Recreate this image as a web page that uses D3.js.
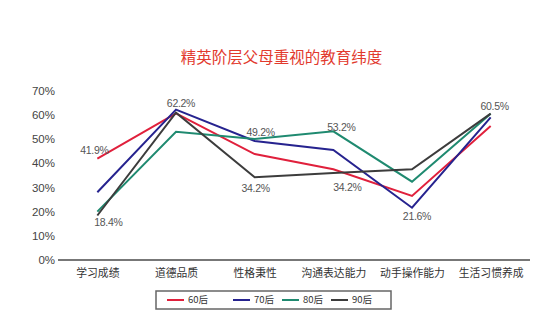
<!DOCTYPE html>
<html>
<head>
<meta charset="utf-8">
<script src="https://cdn.jsdelivr.net/npm/d3@7"></script>
<style>
  html, body { margin: 0; padding: 0; background: #fff; }
  svg { display: block; }
</style>
</head>
<body>
<svg id="chart" width="556" height="324"></svg>
<script>
// Dimensions of education valued by elite parents, by generation
const categories = ["学习成绩", "道德品质", "性格秉性", "沟通表达能力", "动手操作能力", "生活习惯养成"];
const seriesNames = ["60后", "70后", "80后", "90后"];
const values60 = [41.9, 60.6, 43.8, 37.5, 26.5, 55.4];
const values70 = [28.0, 62.2, 49.2, 45.5, 21.6, 59.0];
const values80 = [20.0, 53.0, 50.0, 53.2, 32.4, 60.5];
const values90 = [18.4, 60.9, 34.2, 36.0, 37.5, 60.5];
const yTicks = [0, 10, 20, 30, 40, 50, 60, 70];
const colors = ["#e0203c", "#26238f", "#1f8a70", "#3c3c3c"];

// Value labels: series index, category index, text
const labelSeries = [0, 1, 1, 3, 3, 2, 3, 1, 2];
const labelCats   = [0, 1, 2, 2, 0, 3, 3, 4, 5];
const labelTexts  = ["41.9%", "62.2%", "49.2%", "34.2%", "18.4%", "53.2%", "34.2%", "21.6%", "60.5%"];
const labelDx     = [-3, 5, 6, 1, 11, 8, 14, 5, 4];
const labelDy     = [-8, -6, -9, 11, 7, -4, 14, 9, -7];

const allSeries = [values60, values70, values80, values90];

const svg = d3.select("#chart");
const plotLeft = 58, plotRight = 530, plotTop = 90.7, plotBottom = 260;

const x = d3.scalePoint().domain(categories).range([plotLeft, plotRight]).padding(0.5);
const y = d3.scaleLinear().domain([0, 70]).range([plotBottom, plotTop]);

// Title
svg.append("text")
  .attr("x", 281.5).attr("y", 63)
  .attr("text-anchor", "middle")
  .attr("font-family", "'Noto Sans CJK SC', sans-serif")
  .attr("font-size", 15.5)
  .attr("fill", "#e23a2e")
  .text("精英阶层父母重视的教育纬度");

// Y axis labels
const yAxis = d3.axisLeft(y).tickValues(yTicks).tickFormat(d => d + "%").tickSize(0).tickPadding(3);
const yg = svg.append("g").attr("transform", `translate(${plotLeft},0)`).call(yAxis);
yg.select(".domain").remove();
yg.selectAll("text")
  .attr("font-family", "'Liberation Sans', Arial, sans-serif")
  .attr("font-size", 11.5)
  .attr("fill", "#444");

// X axis
const xAxis = d3.axisBottom(x).tickSize(0).tickPadding(9);
const xg = svg.append("g").attr("transform", `translate(0,${plotBottom})`).call(xAxis);
xg.select(".domain").attr("stroke", "#777").attr("stroke-width", 2).attr("d", `M${plotLeft},0H${plotRight}`);
xg.selectAll("text")
  .attr("font-family", "'Noto Sans CJK SC', sans-serif")
  .attr("font-size", 10.8)
  .attr("fill", "#333");

// Lines
const line = d3.line().x((d, i) => x(categories[i])).y(d => y(d));
allSeries.forEach((vals, s) => {
  svg.append("path")
    .datum(vals)
    .attr("fill", "none")
    .attr("stroke", colors[s])
    .attr("stroke-width", 2)
    .attr("stroke-linejoin", "miter")
    .attr("d", line);
});

// Value labels
labelTexts.forEach((t, i) => {
  svg.append("text")
    .attr("x", x(categories[labelCats[i]]) + labelDx[i])
    .attr("y", y(allSeries[labelSeries[i]][labelCats[i]]) + labelDy[i])
    .attr("dy", "0.35em")
    .attr("text-anchor", "middle")
    .attr("font-family", "'Liberation Sans', Arial, sans-serif")
    .attr("font-size", 10.5)
    .attr("letter-spacing", -0.3)
    .attr("fill", "#555")
    .text(t);
});

// Legend
const legend = svg.append("g");
legend.append("rect")
  .attr("x", 156).attr("y", 291)
  .attr("width", 235).attr("height", 18)
  .attr("fill", "#fff").attr("stroke", "#666").attr("stroke-width", 1.5);
const legendX = [167, 233, 282, 331];
seriesNames.forEach((n, i) => {
  legend.append("line")
    .attr("x1", legendX[i]).attr("x2", legendX[i] + 17)
    .attr("y1", 300).attr("y2", 300)
    .attr("stroke", colors[i]).attr("stroke-width", 2);
  legend.append("text")
    .attr("x", legendX[i] + 21).attr("y", 300)
    .attr("dy", "0.35em")
    .attr("font-family", "'Noto Sans CJK SC', sans-serif")
    .attr("font-size", 9.5)
    .attr("fill", "#333")
    .text(n);
});
</script>
</body>
</html>
